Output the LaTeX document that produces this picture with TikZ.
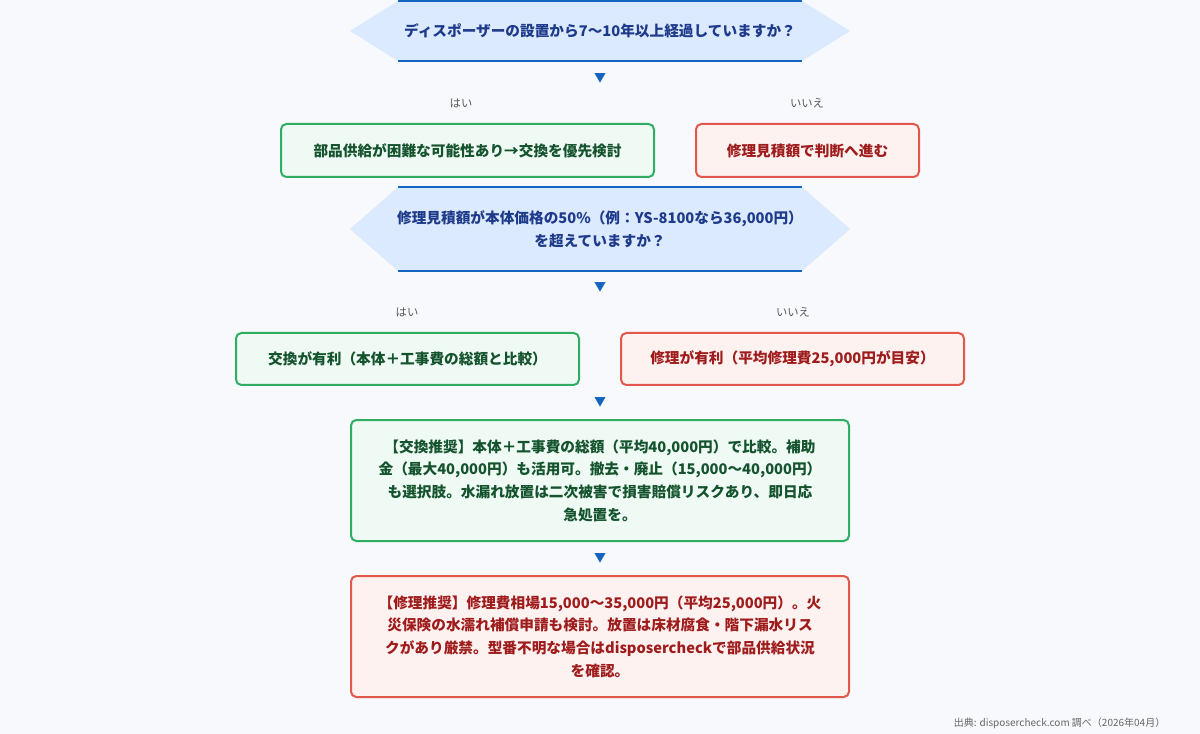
\documentclass[tikz,border=0pt]{standalone}
\usepackage{fontspec}
\setmainfont{Noto Sans CJK JP}
\begin{document}
\definecolor{bg}{HTML}{F7F9FC}
\definecolor{bfill}{HTML}{DBEAFE}
\definecolor{bline}{HTML}{1565C0}
\definecolor{btext}{HTML}{1E3A8A}
\definecolor{gline}{HTML}{2EAD63}
\definecolor{gfill}{HTML}{EEFAF3}
\definecolor{gtext}{HTML}{14532D}
\definecolor{rline}{HTML}{E2584A}
\definecolor{rfill}{HTML}{FEF2F1}
\definecolor{rtext}{HTML}{9F1C1C}
\begin{tikzpicture}[x=0.75pt,y=-0.75pt,
  txt/.style={font=\fontsize{11}{17}\selectfont\bfseries,align=center},
  gbox/.style={draw=gline,fill=gfill,line width=1.5pt,rounded corners=4pt,text=gtext,txt},
  rbox/.style={draw=rline,fill=rfill,line width=1.5pt,rounded corners=4pt,text=rtext,txt},
  lab/.style={font=\fontsize{8.5}{10}\selectfont,text=black!65},
  tri/.style={font=\fontsize{9}{10}\selectfont,text=bline}]
\fill[bg] (0,0) rectangle (1200,734);
\useasboundingbox (0,0) rectangle (1200,734);
% diamond 1
\fill[bfill] (398,1) -- (802,1) -- (850,31) -- (802,61) -- (398,61) -- (350,31) -- cycle;
\draw[bline,line width=1.5pt] (398,1) -- (802,1) (398,61) -- (802,61);
\node[txt,text=btext] (d1) at (600,31) {ディスポーザーの設置から7〜10年以上経過していますか？};
\node[tri] (a1) at (600,78) {▼};
\node[lab] (y1) at (461,103) {はい};
\node[lab] (n1) at (807,103) {いいえ};
\node[gbox,minimum width=373*0.75pt,minimum height=53*0.75pt] (g1) at (467.5,150.5) {部品供給が困難な可能性あり→交換を優先検討};
\node[rbox,minimum width=223*0.75pt,minimum height=53*0.75pt] (r1) at (807.5,150.5) {修理見積額で判断へ進む};
% diamond 2
\fill[bfill] (398,187) -- (802,187) -- (850,229) -- (802,271) -- (398,271) -- (350,229) -- cycle;
\draw[bline,line width=1.5pt] (398,187) -- (802,187) (398,271) -- (802,271);
\node[txt,text=btext] (d2) at (600,229) {修理見積額が本体価格の50\%（例：YS-8100なら36,000円）\\を超えていますか？};
\node[tri] (a2) at (600,287) {▼};
\node[lab] (y2) at (407,312) {はい};
\node[lab] (n2) at (793,312) {いいえ};
\node[gbox,minimum width=343*0.75pt,minimum height=52*0.75pt] (g2) at (407.5,359) {交換が有利（本体＋工事費の総額と比較）};
\node[rbox,minimum width=343*0.75pt,minimum height=52*0.75pt] (r2) at (792.5,359) {修理が有利（平均修理費25,000円が目安）};
\node[tri] (a3) at (600,402) {▼};
\node[gbox,minimum width=498*0.75pt,minimum height=121*0.75pt] (g3) at (600,480.5) {【交換推奨】本体＋工事費の総額（平均40,000円）で比較。補助\\金（最大40,000円）も活用可。撤去・廃止（15,000〜40,000円）\\も選択肢。水漏れ放置は二次被害で損害賠償リスクあり、即日応\\急処置を。};
\node[tri] (a4) at (600,558) {▼};
\node[rbox,minimum width=498*0.75pt,minimum height=121*0.75pt] (r3) at (600,636.5) {【修理推奨】修理費相場15,000〜35,000円（平均25,000円）。火\\災保険の水濡れ補償申請も検討。放置は床材腐食・階下漏水リス\\クがあり厳禁。型番不明な場合はdisposercheckで部品供給状況\\を確認。};
\node[anchor=east,font=\fontsize{7.5}{9}\selectfont,text=black!60] (src) at (1170,723) {出典: disposercheck.com 調べ（2026年04月）};
\end{tikzpicture}
\end{document}
